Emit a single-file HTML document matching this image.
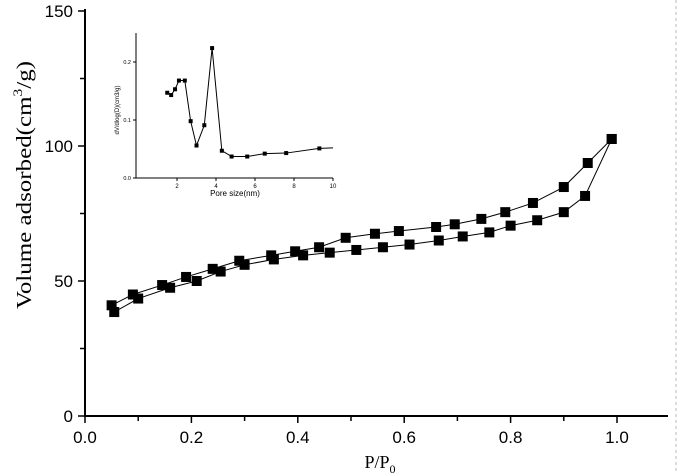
<!DOCTYPE html>
<html><head><meta charset="utf-8"><style>
body{margin:0;background:#fff;}
svg{display:block;font-family:"Liberation Serif",serif;}
</style></head><body>
<svg id="c" width="679" height="473">
<line x1="676" y1="0" x2="676" y2="473" stroke="#bbb" stroke-dasharray="3,3"/>
<g id="main"></g>
<g id="inset"></g>
</svg>
<script>
const xTicks=[0.0,0.2,0.4,0.6,0.8,1.0];
const yTicks=[0,50,100,150];
const adsX=[0.055,0.10,0.16,0.21,0.255,0.30,0.355,0.41,0.46,0.51,0.56,0.61,0.665,0.71,0.76,0.80,0.85,0.90,0.94,0.99];
const adsY=[38.5,43.5,47.5,50,53.5,56,58,59.5,60.5,61.5,62.5,63.5,65,66.5,68,70.5,72.5,75.5,81.5,102.6];
const desX=[0.05,0.09,0.145,0.19,0.24,0.29,0.35,0.395,0.44,0.49,0.545,0.59,0.66,0.695,0.745,0.79,0.842,0.90,0.945,0.99];
const desY=[41,45,48.5,51.5,54.5,57.5,59.5,61,62.5,66,67.5,68.5,70,71,73,75.5,78.9,84.8,93.7,102.6];
const insXTicks=[2,4,6,8,10];
const insYTicks=[0.0,0.1,0.2];
const poreX=[1.5,1.7,1.9,2.1,2.4,2.7,3.0,3.4,3.8,4.3,4.8,5.6,6.5,7.6,9.3];
const poreY=[0.147,0.143,0.153,0.168,0.168,0.098,0.056,0.091,0.224,0.047,0.037,0.037,0.042,0.043,0.051];
const poreEnd=[10,0.052];

const NS="http://www.w3.org/2000/svg";
function mk(p,t,a){const e=document.createElementNS(NS,t);for(const k in a)e.setAttribute(k,a[k]);p.appendChild(e);return e;}
const X=v=>85+v*532, Y=v=>416-v*2.7;
const m=document.getElementById('main');
let e;
e=mk(m,'line',{x1:85,y1:417,x2:85,y2:9,stroke:'#000','stroke-width':2});


e=mk(m,'line',{x1:84,y1:416,x2:668,y2:416,stroke:'#000','stroke-width':2});


for(let v=0;v<=1.2001;v+=0.1){const x=X(v);if(x>669)break;const major=Math.round(v*10)%2===0;
 e=mk(m,'line',{x1:x,y1:416,x2:x,y2:major?423:421,stroke:'#000','stroke-width':1.5});
 
 }
xTicks.forEach(v=>{e=mk(m,'text',{x:X(v),y:443,'text-anchor':'middle','font-size':17,'font-family':'Liberation Sans'});e.textContent=v.toFixed(1);
 
 });
for(let v=0;v<=150;v+=25){e=mk(m,'line',{x1:85,y1:Y(v),x2:v%50===0?78:80,y2:Y(v),stroke:'#000','stroke-width':1.5});
 
 }
yTicks.forEach(v=>{e=mk(m,'text',{x:73,y:Y(v)+6,'text-anchor':'end','font-size':17,'font-family':'Liberation Sans'});e.textContent=v;
 
 });
e=mk(m,'text',{x:380,y:468,'text-anchor':'middle','font-size':18});
e.innerHTML='P/P<tspan font-size="12" dy="5">0</tspan>';


e=mk(m,'text',{x:0,y:0,'text-anchor':'middle','font-size':21,transform:'translate(31,185) rotate(-90)',textLength:248,lengthAdjust:'spacingAndGlyphs'});
e.innerHTML='Volume adsorbed(cm<tspan font-size="13" dy="-9">3</tspan><tspan dy="9">/g)</tspan>';


function series(g,xs,ys,fx,fy,sz,name){
 e=mk(g,'polyline',{points:xs.map((x,i)=>fx(x)+','+fy(ys[i])).join(' '),fill:'none',stroke:'#000','stroke-width':1});
 
 
 xs.forEach((x,i)=>{e=mk(g,'rect',{x:fx(x)-sz/2,y:fy(ys[i])-sz/2,width:sz,height:sz,fill:'#000'});
  
  });
}
series(m,adsX,adsY,X,Y,10,'adsorption');
series(m,desX,desY,X,Y,10,'desorption');

const g=document.getElementById('inset');
const IX=v=>138+v*19.5, IY=v=>178-v*580;
e=mk(g,'line',{x1:136,y1:178,x2:136,y2:33,stroke:'#000','stroke-width':1});


e=mk(g,'line',{x1:136,y1:178,x2:333,y2:178,stroke:'#000','stroke-width':1});


insXTicks.forEach(v=>{e=mk(g,'line',{x1:IX(v),y1:178,x2:IX(v),y2:181,stroke:'#000'});
 
 
 e=mk(g,'text',{x:IX(v),y:188,'text-anchor':'middle','font-size':6,'font-family':'Liberation Sans'});e.textContent=v;
 
 });
insYTicks.forEach(v=>{e=mk(g,'line',{x1:136,y1:IY(v),x2:133,y2:IY(v),stroke:'#000'});
 
 
 e=mk(g,'text',{x:131,y:IY(v)+2,'text-anchor':'end','font-size':5.5,'font-family':'Liberation Sans'});e.textContent=v.toFixed(1);
 
 });
e=mk(g,'text',{x:235,y:196,'text-anchor':'middle','font-size':8,'font-family':'Liberation Sans'});e.textContent='Pore size(nm)';


e=mk(g,'text',{x:0,y:0,'text-anchor':'middle','font-size':6,'font-family':'Liberation Sans',transform:'translate(119,110) rotate(-90)'});e.textContent='dV/dlog(D)(cm3/g)';


e=mk(g,'line',{x1:IX(poreX[poreX.length-1]),y1:IY(poreY[poreY.length-1]),x2:IX(poreEnd[0]),y2:IY(poreEnd[1]),stroke:'#000'});


series(g,poreX,poreY,IX,IY,4,'pore');
</script>
</body></html>
